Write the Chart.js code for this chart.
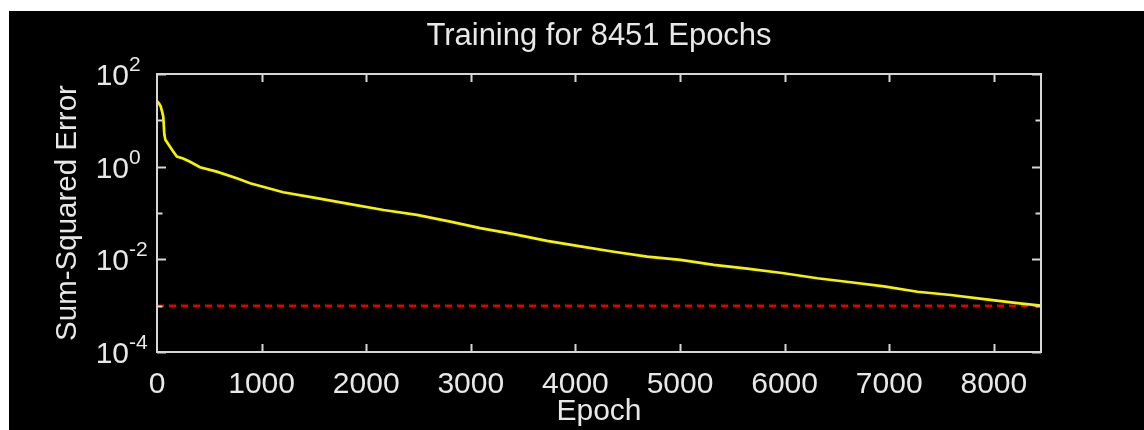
<!DOCTYPE html>
<html>
<head>
<meta charset="utf-8">
<script src="https://cdn.jsdelivr.net/npm/chart.js@4/dist/chart.umd.min.js"></script>
<style>
  html, body { margin: 0; padding: 0; background: #fff; }
  #wrap { position: absolute; left: 9px; top: 11px; width: 1135px; height: 419px; background: #000; }
</style>
</head>
<body>
<div id="wrap"><canvas id="c"></canvas></div>
<script>
// Training record: sum-squared error per epoch (log scale), plus the error goal.
const titleText = 'Training for 8451 Epochs';
const xLabel = 'Epoch';
const yLabel = 'Sum-Squared Error';

const epochs = [0, 20, 35, 50, 60, 70, 80, 110, 150, 190, 250, 316, 411, 571, 763, 890,
  1206, 1528, 1847, 2166, 2485, 2804, 3091, 3410, 3729, 4048, 4367, 4686, 5005, 5324,
  5643, 5993, 6313, 6632, 6950, 7270, 7589, 7908, 8227, 8451];
const sse = [26, 23, 20, 15, 12, 5, 3.8, 3.0, 2.2, 1.65, 1.5, 1.28, 0.97, 0.78, 0.56, 0.44,
  0.28, 0.21, 0.155, 0.116, 0.091, 0.065, 0.047, 0.035, 0.025, 0.019, 0.0146, 0.0114, 0.0097, 0.0076,
  0.0063, 0.005, 0.0039, 0.0032, 0.0026, 0.0020, 0.0017, 0.00138, 0.00113, 0.000999];

const goal = 0.001;
const lastEpoch = 8451;
const xTicks = [0, 1000, 2000, 3000, 4000, 5000, 6000, 7000, 8000];
const yDecades = [-4, -3, -2, -1, 0, 1, 2];
const yLabeled = [-4, -2, 0, 2];

const FONT = '"Liberation Sans", Arial, Helvetica, sans-serif';
const TEXT = '#e8e8e8';
const AXIS = '#d6d6d6';

// Box around the plot, inward tick marks, power-of-ten labels and the title.
const framePlugin = {
  id: 'frame',
  afterDraw(chart) {
    const ctx = chart.ctx;
    const a = chart.chartArea;
    const xs = chart.scales.x;
    const ys = chart.scales.y;
    ctx.save();
    ctx.strokeStyle = AXIS;
    ctx.lineWidth = 2;
    ctx.strokeRect(a.left, a.top, a.right - a.left, a.bottom - a.top);

    ctx.beginPath();
    xTicks.forEach(v => {
      if (v === 0) return;
      const px = Math.round(xs.getPixelForValue(v)) + 0.5;
      ctx.moveTo(px, a.bottom); ctx.lineTo(px, a.bottom - 8);
      ctx.moveTo(px, a.top); ctx.lineTo(px, a.top + 8);
    });
    yDecades.forEach(p => {
      const py = Math.round(ys.getPixelForValue(Math.pow(10, p))) + 0.5;
      const len = (p % 2 === 0) ? 9 : 5.5;
      ctx.moveTo(a.left, py); ctx.lineTo(a.left + len, py);
      ctx.moveTo(a.right, py); ctx.lineTo(a.right - len, py);
    });
    ctx.stroke();

    ctx.fillStyle = TEXT;
    ctx.textBaseline = 'alphabetic';
    yLabeled.forEach(p => {
      const py = ys.getPixelForValue(Math.pow(10, p));
      ctx.font = '30px ' + FONT;
      ctx.textAlign = 'right';
      ctx.fillText('10', 120, py + 11);
      ctx.font = '21px ' + FONT;
      ctx.textAlign = 'left';
      ctx.fillText(String(p), 120, py - 3);
    });

    ctx.font = '31px ' + FONT;
    ctx.textAlign = 'center';
    ctx.textBaseline = 'middle';
    ctx.fillText(titleText, (a.left + a.right) / 2, 25);
    ctx.restore();
  }
};

new Chart(document.getElementById('c'), {
  type: 'line',
  data: {
    datasets: [
      {
        label: 'error',
        data: epochs.map((e, i) => ({ x: e, y: sse[i] })),
        borderColor: '#f4f400',
        borderWidth: 2.7,
        pointRadius: 0,
        tension: 0
      },
      {
        label: 'goal',
        data: [{ x: 0, y: goal }, { x: lastEpoch, y: goal }],
        borderColor: '#e00000',
        borderWidth: 2.5,
        borderDash: [7, 5],
        pointRadius: 0
      }
    ]
  },
  options: {
    responsive: true,
    maintainAspectRatio: false,
    animation: false,
    layout: { padding: { left: 0, right: 103, top: 63, bottom: 0 } },
    plugins: { legend: { display: false }, title: { display: false }, tooltip: { enabled: false } },
    scales: {
      x: {
        type: 'linear',
        min: 0,
        max: lastEpoch,
        afterBuildTicks: s => { s.ticks = xTicks.map(v => ({ value: v })); },
        ticks: {
          color: TEXT,
          font: { family: FONT, size: 30 },
          padding: 7,
          maxRotation: 0,
          autoSkip: false,
          callback: v => String(v)
        },
        grid: { display: false },
        border: { display: false },
        title: { display: true, text: xLabel, color: TEXT, font: { family: FONT, size: 30 }, padding: { top: 0, bottom: 0 } },
        afterFit: s => { s.height = 78; }
      },
      y: {
        type: 'logarithmic',
        min: 1e-4,
        max: 1e2,
        afterBuildTicks: s => { s.ticks = yDecades.map(p => ({ value: Math.pow(10, p) })); },
        ticks: { display: false },
        grid: { display: false },
        border: { display: false },
        title: { display: true, text: yLabel, color: TEXT, font: { family: FONT, size: 29.5 }, padding: { top: 41, bottom: 0 } },
        afterFit: s => { s.width = 148; }
      }
    }
  },
  plugins: [framePlugin]
});
</script>
</body>
</html>
